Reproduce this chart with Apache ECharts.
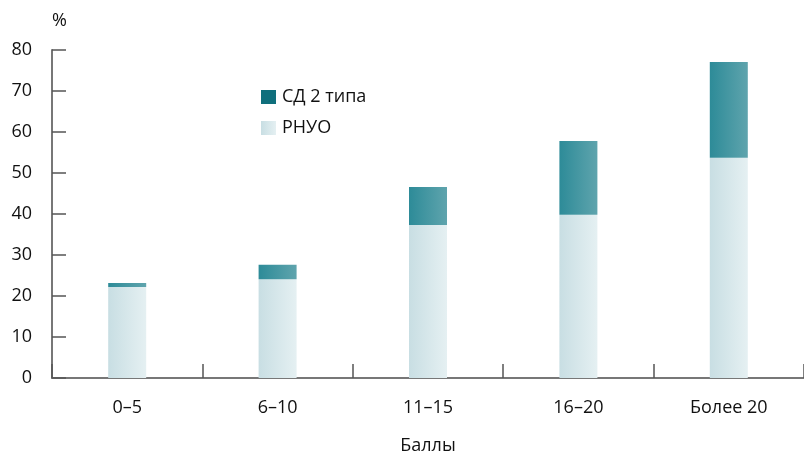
<!DOCTYPE html>
<html><head><meta charset="utf-8">
<script src="https://cdn.jsdelivr.net/npm/echarts@6/dist/echarts.min.js"></script>
<style>html,body{margin:0;padding:0;background:#fff}#c{width:804px;height:456px}</style>
</head><body><div id="c"></div>
<script>
const categories = ['0–5', '6–10', '11–15', '16–20', 'Более 20'];
const rnuo = [22.2, 24.1, 37.3, 39.8, 53.7];
const sd2 = [1.0, 3.5, 9.3, 18.0, 23.4];
const yTicks = [0, 10, 20, 30, 40, 50, 60, 70, 80];
const FONT = 'Open Sans';

const chart = echarts.init(document.getElementById('c'));
const lightGrad = new echarts.graphic.LinearGradient(0, 0, 1, 0, [
  {offset: 0, color: '#c8dee3'}, {offset: 1, color: '#e5f0f2'}]);
const tealGrad = new echarts.graphic.LinearGradient(0, 0, 1, 0, [
  {offset: 0, color: '#2d8b98'}, {offset: 1, color: '#5fa4ad'}]);
chart.setOption({
  animation: false,
  grid: {left: 52, right: 0, top: 50, bottom: 78, containLabel: false, outerBoundsMode: 'none'},
  legend: {
    left: 261, top: 88, orient: 'vertical', itemGap: 13, padding: 0,
    itemWidth: 15, itemHeight: 14, icon: 'rect',
    textStyle: {fontFamily: FONT, fontSize: 18, color: '#111', padding: [0, 0, 0, 1]},
    data: [
      {name: 'СД 2 типа', itemStyle: {color: '#0f6f7c'}},
      {name: 'РНУО', itemStyle: {color: lightGrad}}
    ]
  },
  xAxis: {
    type: 'category', data: categories,
    name: 'Баллы', nameLocation: 'middle', nameGap: 59,
    nameTextStyle: {fontFamily: FONT, fontSize: 18, color: '#111'},
    axisLine: {show: true, lineStyle: {color: '#777', width: 2}},
    axisTick: {show: true, inside: true, length: 14, alignWithLabel: false, lineStyle: {color: '#555', width: 1.5}},
    axisLabel: {fontFamily: FONT, fontSize: 18, color: '#111', margin: 21}
  },
  yAxis: {
    type: 'value', min: 0, max: 80, interval: 10,
    name: '%', nameLocation: 'end', nameGap: 20,
    nameTextStyle: {fontFamily: FONT, fontSize: 18, color: '#111', align: 'left'},
    axisLine: {show: true, lineStyle: {color: '#777', width: 2}},
    axisTick: {show: true, inside: true, length: 14, interval: 0, lineStyle: {color: '#555', width: 1.5}},
    axisLabel: {show: true, fontFamily: FONT, fontSize: 18, color: '#111', margin: 20},
    splitLine: {show: false}
  },
  series: [
    {name: 'РНУО', type: 'bar', stack: 's', data: rnuo, barWidth: 38,
     itemStyle: {color: lightGrad}},
    {name: 'СД 2 типа', type: 'bar', stack: 's', data: sd2, barWidth: 38,
     itemStyle: {color: tealGrad}}
  ]
});
</script></body></html>
